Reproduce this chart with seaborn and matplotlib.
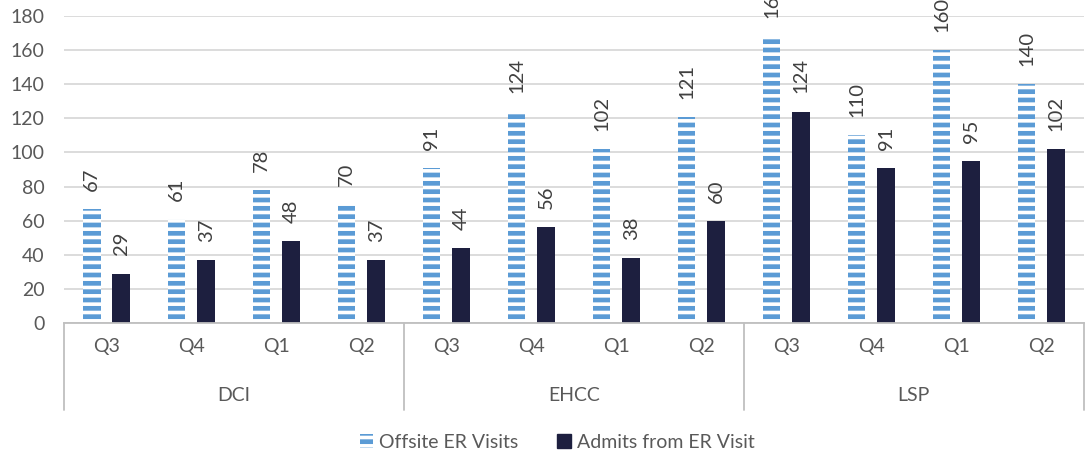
import matplotlib
matplotlib.use("Agg")
import matplotlib.pyplot as plt
import matplotlib.transforms as mtransforms
from matplotlib.patches import Patch
import seaborn as sns
import pandas as pd
import numpy as np

groups = ["DCI", "EHCC", "LSP"]
quarters = ["Q3", "Q4", "Q1", "Q2"]
offsite_er = [67, 61, 78, 70, 91, 124, 102, 121, 168, 110, 160, 140]
admits_er = [29, 37, 48, 37, 44, 56, 38, 60, 124, 91, 95, 102]
series_names = ["Offsite ER Visits", "Admits from ER Visit"]

blue = "#5B9BD5"
navy = "#1D1F3F"
text_c = "#595959"

sns.set_theme(style="white")
plt.rcParams["font.family"] = ["Lato", "DejaVu Sans"]
plt.rcParams["hatch.linewidth"] = 2.6

cats = [f"{g}-{q}-{i}" for i, (g, q) in enumerate((g, q) for g in groups for q in quarters)]
df = pd.DataFrame({
    "cat": cats * 2,
    "value": offsite_er + admits_er,
    "series": [series_names[0]] * len(cats) + [series_names[1]] * len(cats),
})

fig = plt.figure(figsize=(10.86, 4.59), dpi=100)
ax = fig.add_axes([0.0589, 0.2963, 0.998 - 0.0589, 0.9651 - 0.2963])

sns.barplot(data=df, x="cat", y="value", hue="series", order=cats,
            hue_order=series_names, palette=[blue, navy], width=0.7, gap=0.4,
            ax=ax, legend=False, linewidth=0, saturation=1)

cont_off, cont_adm = ax.containers[0], ax.containers[1]
for p in cont_off:
    p.set_facecolor(blue)
    p.set_edgecolor("white")
    p.set_hatch("--")
    p.set_linewidth(0)
for p in cont_adm:
    p.set_facecolor(navy)
    p.set_edgecolor(navy)

for cont in (cont_off, cont_adm):
    ax.bar_label(cont, labels=[str(int(round(p.get_height()))) for p in cont],
                 rotation=90, padding=13, fontsize=14.5, color="#404040")

ax.set_ylim(0, 180)
ax.set_yticks(np.arange(0, 181, 20))
ax.set_xlim(-0.5, len(cats) - 0.5)
ax.set_xticks(range(len(cats)))
ax.set_xticklabels(quarters * len(groups))
ax.tick_params(axis="x", length=0, pad=11, labelsize=14, labelcolor=text_c)
ax.tick_params(axis="y", length=0, pad=14, labelsize=14, labelcolor=text_c)
ax.set_xlabel("")
ax.set_ylabel("")
ax.yaxis.grid(True, color="#D9D9D9", linewidth=1.3)
ax.set_axisbelow(True)
for s in ["left", "right", "top"]:
    ax.spines[s].set_visible(False)
ax.spines["bottom"].set_color("#BFBFBF")
ax.spines["bottom"].set_linewidth(1.3)

trans = mtransforms.blended_transform_factory(ax.transData, ax.transAxes)
n_q = len(quarters)
for gi in range(len(groups) + 1):
    xpos = gi * n_q - 0.5
    ax.plot([xpos, xpos], [0, -0.283], transform=trans, color="#BFBFBF",
            linewidth=1.3, clip_on=False)
for gi, g in enumerate(groups):
    ax.text(gi * n_q + (n_q - 1) / 2, -0.235, g, transform=trans, ha="center",
            va="center", fontsize=14, color=text_c)

handles = [Patch(facecolor=blue, edgecolor="white", hatch="--", linewidth=0),
           Patch(facecolor=navy, edgecolor=navy)]
fig.legend(handles, series_names, loc="center", bbox_to_anchor=(0.513, 0.037),
           ncol=2, frameon=False, fontsize=14, labelcolor=text_c,
           handlelength=0.7, handleheight=0.7, handletextpad=0.3, columnspacing=2.0)

fig.savefig("out.png", dpi=100)
